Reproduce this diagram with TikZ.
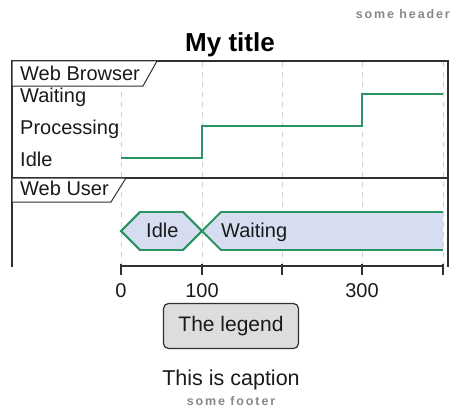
\documentclass[tikz,border=0pt]{standalone}
\usepackage{fontspec}
\setmainfont{Liberation Sans}
\newfontfamily\spacedfont[LetterSpace=15]{Liberation Sans}
\definecolor{sigline}{HTML}{2A9463}
\definecolor{hexfill}{HTML}{D6DDF0}
\definecolor{gridc}{HTML}{D0D0D0}
\definecolor{framec}{HTML}{303030}
\definecolor{hdrc}{HTML}{888888}
\definecolor{legfill}{HTML}{DDDDDD}
\definecolor{textc}{HTML}{1A1A1A}
\tikzset{
  txt/.style={inner sep=0pt, anchor=base west, text=textc, font=\fontsize{20}{22}\selectfont},
  frameline/.style={draw=framec, line width=1.8pt},
  gridline/.style={draw=gridc, line width=0.8pt, dash pattern=on 5pt off 5pt},
  signal/.style={draw=sigline, line width=1.8pt},
  hexbox/.style={draw=sigline, line width=1.8pt, fill=hexfill, line join=miter},
  tab/.style={draw=framec, line width=1pt, fill=white},
  smallgray/.style={inner sep=0pt, text=hdrc, font=\spacedfont\bfseries\fontsize{12.5}{14}\selectfont}
}
\begin{document}
\begin{tikzpicture}[x=1pt,y=-1pt]
\useasboundingbox (0,0) rectangle (452,412);
% header & title
\node[smallgray, anchor=base east] (hdr) at (450,19) {some header};
\node[inner sep=0pt, anchor=base, font=\bfseries\fontsize{26}{28}\selectfont] (title) at (230,52) {My title};
% grid lines
\foreach \gx [count=\i] in {121,202,282,362,443}{
  \coordinate (gt\i) at (\gx,62);
  \coordinate (gb\i) at (\gx,266);
  \draw[gridline] (gt\i) -- (gb\i);
}
% frame
\coordinate (ftl) at (12,61);
\coordinate (ftr) at (448,61);
\coordinate (fbl) at (12,267);
\coordinate (fbr) at (448,267);
\coordinate (sepl) at (12,178);
\coordinate (sepr) at (448,178);
\draw[frameline] (fbl) -- (ftl) -- (ftr) -- (fbr);
\draw[frameline] (sepl) -- (sepr);
% tabs
\draw[tab] (12,61) -- (157,61) -- (143,86) -- (12,86) -- cycle;
\node[txt] (wb) at (20,81) {Web Browser};
\draw[tab] (12,178) -- (126,178) -- (111,202) -- (12,202) -- cycle;
\node[txt] (wu) at (20,195) {Web User};
% state labels
\node[txt] (sw) at (20,102) {Waiting};
\node[txt] (sp) at (20,134) {Processing};
\node[txt] (si) at (20,166) {Idle};
% robust signal
\coordinate (r1) at (121,158);
\coordinate (r2) at (202,158);
\coordinate (r3) at (202,126);
\coordinate (r4) at (362,126);
\coordinate (r5) at (362,94);
\coordinate (r6) at (443,94);
\draw[signal] (r1) -- (r2) -- (r3) -- (r4) -- (r5) -- (r6);
% concise signal
\draw[hexbox] (202,231) -- (183,212) -- (140,212) -- (121,231) -- (140,250) -- (183,250) -- cycle;
\fill[hexfill] (202,231) -- (221,212) -- (443,212) -- (443,250) -- (221,250) -- cycle;
\draw[signal] (202,231) -- (183,212) -- (140,212) -- (121,231) -- (140,250) -- (183,250) -- cycle;
\draw[signal] (443,212) -- (221,212) -- (202,231) -- (221,250) -- (443,250);
\node[txt] (hidle) at (146,237) {Idle};
\node[txt] (hwait) at (221,237) {Waiting};
% axis
\coordinate (ax0) at (121,266);
\coordinate (ax1) at (443,266);
\draw[frameline] (ax0) -- (ax1);
\foreach \gx in {121,202,282,362,443}{
  \draw[framec, line width=1.8pt] (\gx,264) -- (\gx,275);
}
\node[txt, anchor=base] (l0) at (121,297) {0};
\node[txt, anchor=base] (l100) at (202,297) {100};
\node[txt, anchor=base] (l300) at (362,297) {300};
% legend
\node[draw=framec, line width=1.2pt, fill=legfill, rounded corners=5pt, minimum width=135pt, minimum height=45pt, inner sep=0pt, text=textc, font=\fontsize{21}{23}\selectfont] (legend) at (231,326) {The legend};
% caption & footer
\node[inner sep=0pt, anchor=base, text=textc, font=\fontsize{21.5}{23}\selectfont] (caption) at (231,385) {This is caption};
\node[smallgray, anchor=base] (footer) at (231,405) {some footer};
\end{tikzpicture}
\end{document}
